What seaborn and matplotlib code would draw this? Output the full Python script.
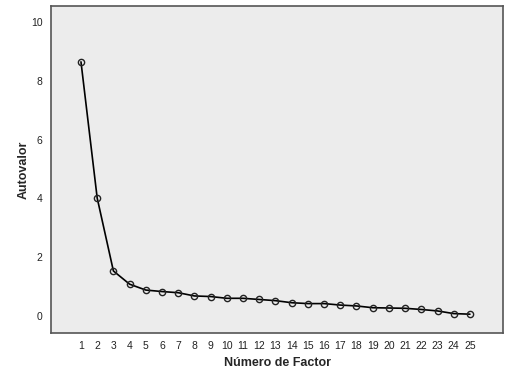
import matplotlib
matplotlib.use("Agg")
import matplotlib.pyplot as plt
import seaborn as sns
import pandas as pd

factors = list(range(1, 26))
eigenvalues = [8.64, 4.01, 1.53, 1.08, 0.88, 0.83, 0.79, 0.68, 0.66, 0.60,
               0.60, 0.56, 0.52, 0.45, 0.42, 0.42, 0.37, 0.34, 0.28, 0.27,
               0.26, 0.22, 0.17, 0.08, 0.06]
y_ticks = [0, 2, 4, 6, 8, 10]

sns.set_style("white")
plt.rcParams['font.family'] = ['Liberation Sans', 'DejaVu Sans']

df = pd.DataFrame({"Número de Factor": factors, "Autovalor": eigenvalues})

fig = plt.figure(figsize=(5.15, 3.74), dpi=100)
ax = fig.add_axes([51/515, 1 - 333/374, (503-51)/515, (333-6)/374])
ax.set_facecolor("#ececec")

sns.lineplot(data=df, x="Número de Factor", y="Autovalor", ax=ax,
             color="black", linewidth=1.2, marker="o", markersize=4.5,
             markerfacecolor="none", markeredgecolor="#222222", markeredgewidth=1.0)

ax.set_xlim(-0.85, 27.04)
ax.set_ylim(-0.58, 10.54)
ax.set_xticks(factors)
ax.set_xticklabels([str(f) for f in factors])
ax.set_yticks(y_ticks)
ax.set_yticklabels([str(t) for t in y_ticks])

ax.tick_params(axis='both', which='major', length=4, width=1, color="#333333",
               labelsize=7.5, labelcolor="#222222", direction='out')
ax.tick_params(axis='x', pad=2)
ax.tick_params(axis='y', pad=2)
for s in ax.spines.values():
    s.set_color("#555555")
    s.set_linewidth(1.2)
    s.set_visible(True)

ax.set_xlabel("Número de Factor", fontsize=9, fontweight="bold", labelpad=4)
ax.set_ylabel("Autovalor", fontsize=9, fontweight="bold", labelpad=1)
ax.grid(False)

fig.savefig("out.png", dpi=100)
